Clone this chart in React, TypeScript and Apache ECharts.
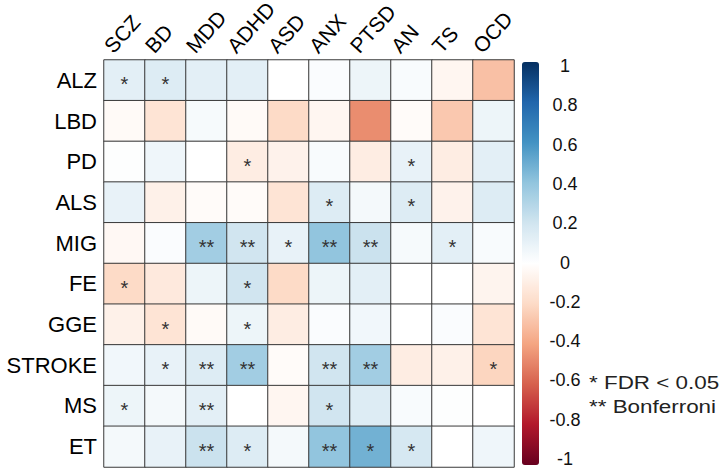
import React, { useEffect, useRef } from 'react';
import * as echarts from 'echarts';

const rows = ['ALZ', 'LBD', 'PD', 'ALS', 'MIG', 'FE', 'GGE', 'STROKE', 'MS', 'ET'];
const cols = ['SCZ', 'BD', 'MDD', 'ADHD', 'ASD', 'ANX', 'PTSD', 'AN', 'TS', 'OCD'];

// correlation values, one array per row (columns in `cols` order)
const corrALZ = [0.12, 0.15, 0.12, 0.12, 0.0, 0.02, 0.08, 0.03, -0.05, -0.3];
const corrLBD = [-0.03, -0.15, 0.04, -0.03, -0.2, -0.05, -0.47, -0.02, -0.27, 0.08];
const corrPD = [0.01, 0.07, 0.0, -0.1, -0.07, 0.03, -0.1, 0.1, -0.1, 0.12];
const corrALS = [0.1, -0.08, -0.02, -0.02, -0.15, 0.15, 0.05, 0.15, -0.07, 0.15];
const corrMIG = [-0.04, 0.02, 0.35, 0.2, 0.1, 0.4, 0.22, 0.04, 0.12, 0.03];
const corrFE = [-0.2, -0.12, 0.08, 0.2, -0.2, 0.08, 0.12, 0.0, 0.0, -0.06];
const corrGGE = [-0.08, -0.15, -0.03, 0.08, -0.1, 0.02, 0.06, 0.0, 0.02, -0.15];
const corrSTROKE = [0.06, 0.1, 0.15, 0.35, -0.02, 0.2, 0.35, -0.1, -0.08, -0.22];
const corrMS = [0.08, 0.05, 0.12, 0.0, -0.05, 0.2, 0.15, 0.03, 0.01, 0.0];
const corrET = [0.05, 0.1, 0.22, 0.15, 0.05, 0.4, 0.48, 0.18, 0.0, 0.07];

// significance markers
const sigALZ = ['*', '*', '', '', '', '', '', '', '', ''];
const sigLBD = ['', '', '', '', '', '', '', '', '', ''];
const sigPD = ['', '', '', '*', '', '', '', '*', '', ''];
const sigALS = ['', '', '', '', '', '*', '', '*', '', ''];
const sigMIG = ['', '', '**', '**', '*', '**', '**', '', '*', ''];
const sigFE = ['*', '', '', '*', '', '', '', '', '', ''];
const sigGGE = ['', '*', '', '*', '', '', '', '', '', ''];
const sigSTROKE = ['', '*', '**', '**', '', '**', '**', '', '', '*'];
const sigMS = ['*', '', '**', '', '', '*', '', '', '', ''];
const sigET = ['', '', '**', '*', '', '**', '*', '*', '', ''];

const colorbarTicks = [-1, -0.8, -0.6, -0.4, -0.2, 0, 0.2, 0.4, 0.6, 0.8, 1];
const legendLines = ['* FDR < 0.05', '** Bonferroni'];

const corr = [corrALZ, corrLBD, corrPD, corrALS, corrMIG, corrFE, corrGGE, corrSTROKE, corrMS, corrET];
const sig = [sigALZ, sigLBD, sigPD, sigALS, sigMIG, sigFE, sigGGE, sigSTROKE, sigMS, sigET];

const RdBu = ['#67001F', '#B2182B', '#D6604D', '#F4A582', '#FDDBC7', '#FFFFFF', '#D1E5F0', '#92C5DE', '#4393C3', '#2166AC', '#053061'];
const FONT = 'Liberation Sans, Arial, sans-serif';

export default function App() {
  const ref = useRef<HTMLDivElement>(null);
  useEffect(() => {
    const chart = echarts.init(ref.current!, null, { renderer: 'svg' });
    const data: any[] = [];
    rows.forEach((r, i) =>
      cols.forEach((c, j) => {
        data.push({ value: [j, i, corr[i][j]], sig: sig[i][j] });
      })
    );
    const legendGraphics = legendLines.map((t, k) => ({
      type: 'text', left: 589, top: 373 + k * 24, scaleX: 1.18,
      style: { text: t, fontSize: 19, fill: '#222', fontFamily: FONT },
    }));
    chart.setOption({
      animation: false,
      backgroundColor: '#ffffff',
      grid: [
        { left: 104, top: 60, width: 410, height: 407 },
        { left: 522, top: 66, width: 17, height: 393 },
      ],
      xAxis: [
        {
          type: 'category', gridIndex: 0, data: cols, position: 'top',
          axisLabel: { show: false }, axisTick: { show: false }, axisLine: { show: false }, splitLine: { show: false },
        },
        { type: 'value', gridIndex: 1, min: 0, max: 1, show: false },
      ],
      yAxis: [
        {
          type: 'category', gridIndex: 0, data: rows, inverse: true,
          axisLabel: { fontSize: 22, color: '#000', fontFamily: FONT, margin: 7 },
          axisTick: { show: false }, axisLine: { show: false }, splitLine: { show: false },
        },
        {
          type: 'value', gridIndex: 1, min: -1, max: 1, interval: 0.2, position: 'right',
          axisLabel: {
            formatter: (v: number) => {
              const r = Math.round(v * 10) / 10;
              return colorbarTicks.includes(r) ? String(r) : '';
            },
            fontSize: 18, color: '#111', fontFamily: FONT, margin: 26, align: 'center',
          },
          axisTick: { show: true, length: 4, lineStyle: { color: '#aaa' } },
          axisLine: { show: false }, splitLine: { show: false },
        },
      ],
      visualMap: {
        type: 'continuous', min: -1, max: 1, seriesIndex: 0, dimension: 2,
        inRange: { color: RdBu }, left: 522, top: 62, itemWidth: 17, itemHeight: 403,
        padding: 0, calculable: false, hoverLink: false, showLabel: false, text: ['', ''],
      },
      series: [
        {
          type: 'heatmap', xAxisIndex: 0, yAxisIndex: 0, data,
          itemStyle: { borderColor: '#3a3a3a', borderWidth: 1 },
          label: {
            show: true,
            formatter: (p: any) => p.data.sig,
            fontSize: 20, color: '#333', fontFamily: FONT, offset: [0, 4],
          },
          emphasis: { disabled: true },
        },
      ],
      graphic: legendGraphics,
    });
    // rotated column labels placed through the category axis scale
    const colLabels = cols.map((c, j) => {
      const px = chart.convertToPixel({ xAxisIndex: 0 }, j) as number;
      return {
        type: 'text', x: px - 16.5, y: 49.5, rotation: (48 * Math.PI) / 180,
        style: { text: c, fontSize: 21, fill: '#000', fontFamily: FONT, align: 'left', verticalAlign: 'middle' },
      };
    });
    chart.setOption({ graphic: [...legendGraphics, ...colLabels] }, { replaceMerge: ['graphic'] });
    return () => chart.dispose();
  }, []);
  return <div ref={ref} style={{ position: 'fixed', left: 0, top: 0, width: 720, height: 470 }} />;
}
